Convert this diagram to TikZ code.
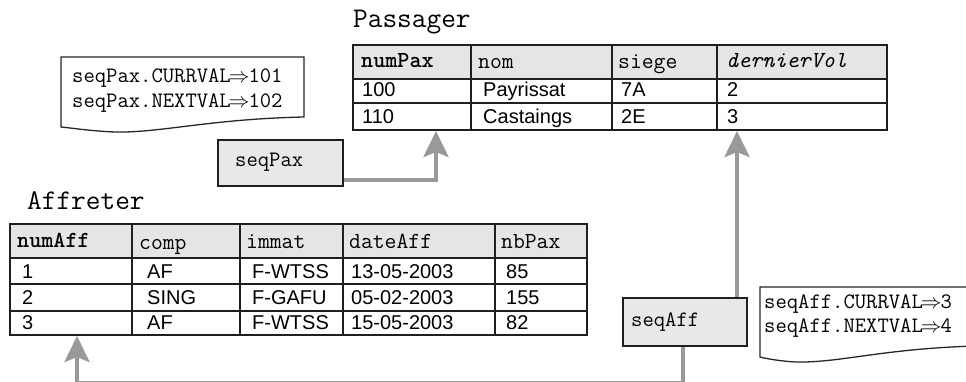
\documentclass[tikz,border=0pt]{standalone}
\usepackage{fontspec}
\newfontfamily\cellfont{Liberation Sans}
\usetikzlibrary{arrows.meta}

\definecolor{linkgray}{gray}{0.6}
\definecolor{headfill}{gray}{0.9}
\definecolor{boxfill}{gray}{0.91}

\tikzset{
  grid/.style={line width=1.8pt, draw=black!88},
  title/.style={anchor=base west, inner sep=0pt, font=\fontsize{28.5}{30}\selectfont\ttfamily},
  hdr/.style={anchor=base west, inner sep=0pt, font=\fontsize{23}{24}\selectfont\ttfamily},
  cell/.style={anchor=base west, inner sep=0pt, font=\fontsize{20}{22}\selectfont\cellfont},
  code/.style={anchor=base west, inner sep=0pt, font=\fontsize{22}{24}\selectfont\ttfamily},
  seqbox/.style={draw=black!88, line width=1.8pt, fill=boxfill, inner sep=0pt},
  notebox/.style={draw=black!85, line width=1.3pt, fill=white},
  conn/.style={draw=linkgray, line width=4.5pt},
  tip/.style={-{Stealth[length=26pt,width=25pt,inset=5pt]}},
}

\begin{document}
\begin{tikzpicture}[x=1pt, y=-1pt]
\useasboundingbox (0,0) rectangle (966,382);
\clip (0,0) rectangle (966,382);

% ---------------- Passager table ----------------
\node[title] (ptitle) at (353,28) {Passager};
\fill[headfill] (353,45) rectangle (887,79);
\draw[grid] (353,45) rectangle (887,130);
\draw[grid] (353,79) -- (887,79) (353,103) -- (887,103);
\foreach \x in {471,612,717} \draw[grid] (\x,45) -- (\x,130);

\node[hdr] (ph1) at (361,68) {\bfseries numPax};
\node[hdr] (ph2) at (478,69) {nom};
\node[hdr] (ph3) at (618,69) {siege};
\node[hdr] (ph4) at (726,68) {\itshape dernierVol};

\node[cell] (p11) at (362,97) {100};
\node[cell] (p12) at (483,97) {Payrissat};
\node[cell] (p13) at (621,97) {7A};
\node[cell] (p14) at (727,97) {2};
\node[cell] (p21) at (362,124) {110};
\node[cell] (p22) at (483,124) {Castaings};
\node[cell] (p23) at (621,124) {2E};
\node[cell] (p24) at (727,124) {3};

% ---------------- Affreter table ----------------
\node[title] (atitle) at (27,209) {Affreter};
\fill[headfill] (10,224) rectangle (587,258);
\draw[grid] (10,224) rectangle (587,335);
\draw[grid] (10,258) -- (587,258) (10,284) -- (587,284) (10,311) -- (587,311);
\foreach \x in {132,240,343,495} \draw[grid] (\x,224) -- (\x,335);

\node[hdr] (ah1) at (17,247) {\bfseries numAff};
\node[hdr] (ah2) at (139,249) {comp};
\node[hdr] (ah3) at (246,248) {immat};
\node[hdr] (ah4) at (349,248) {dateAff};
\node[hdr] (ah5) at (501,248) {nbPax};

\node[cell] (a11) at (22,278) {1};
\node[cell] (a12) at (147,278) {AF};
\node[cell] (a13) at (252,278) {F-WTSS};
\node[cell] (a14) at (351,278) {13-05-2003};
\node[cell] (a15) at (506,278) {85};
\node[cell] (a21) at (22,304) {2};
\node[cell] (a22) at (147,304) {SING};
\node[cell] (a23) at (252,304) {F-GAFU};
\node[cell] (a24) at (351,304) {05-02-2003};
\node[cell] (a25) at (506,304) {155};
\node[cell] (a31) at (22,329) {3};
\node[cell] (a32) at (147,329) {AF};
\node[cell] (a33) at (252,329) {F-WTSS};
\node[cell] (a34) at (351,329) {15-05-2003};
\node[cell] (a35) at (506,329) {82};

% ---------------- sequence notes ----------------
\path[notebox] (61,57) -- (304,57) -- (304,117)
  .. controls (210,119) and (160,133) .. (115,132)
  .. controls (90,131) and (72,128) .. (61,127) -- cycle;
\node[code] (paxcur) at (72,83) {seqPax.CURRVAL\kern-2pt$\Rightarrow$\kern-1pt101};
\node[code] (paxnext) at (72,108) {seqPax.NEXTVAL\kern-2pt$\Rightarrow$\kern-1pt102};

\path[notebox] (760,287) -- (975,287) -- (975,346)
  .. controls (880,349) and (840,363) .. (795,362)
  .. controls (780,361) and (768,359) .. (760,357) -- cycle;
\node[code] (affcur) at (764,308) {seqAff.CURRVAL\kern-2pt$\Rightarrow$\kern-1pt3};
\node[code] (affnext) at (764,332) {seqAff.NEXTVAL\kern-2pt$\Rightarrow$\kern-1pt4};

% ---------------- sequences ----------------
\node[seqbox, minimum width=125pt, minimum height=46pt] (seqpax) at (280.5,163) {};
\node[code] (seqpaxtxt) at (235,167) {seqPax};
\node[seqbox, minimum width=124pt, minimum height=48pt] (seqaff) at (685,322) {};
\node[code] (seqafftxt) at (631,326) {seqAff};

% ---------------- connectors ----------------
\coordinate (paxin) at (436,131);
\coordinate (volin) at (737,131);
\coordinate (affin) at (77,336);
\coordinate (floor) at (0,383.6);

\draw[conn, tip] ([yshift=-17pt]seqpax.east) -| (paxin);
\draw[conn, tip] (volin |- seqaff.north) -- (volin);
\draw[conn, tip] ([xshift=-2pt]seqaff.south) |- (affin |- floor) -- (affin);
\end{tikzpicture}
\end{document}
